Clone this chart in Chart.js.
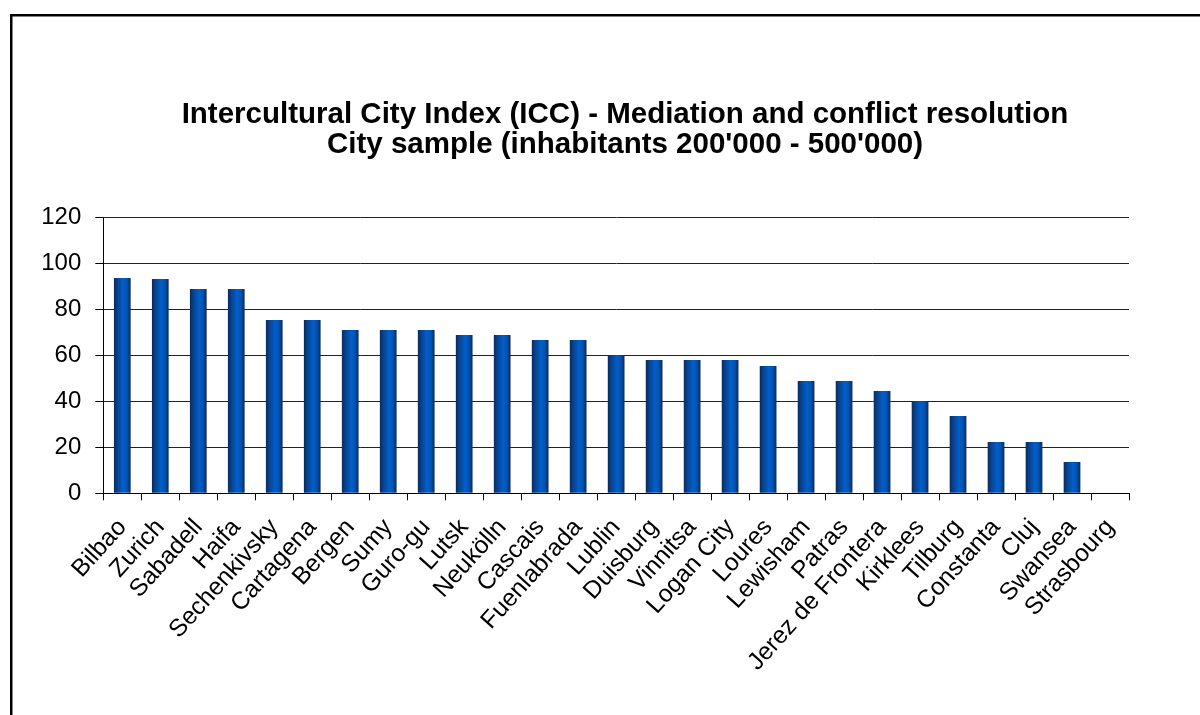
<!DOCTYPE html>
<html>
<head>
<meta charset="utf-8">
<style>
  html, body { margin: 0; padding: 0; background: #ffffff; }
  #wrap { width: 1200px; height: 715px; position: relative; }
</style>
<script src="https://cdn.jsdelivr.net/npm/chart.js@4.4.1/dist/chart.umd.min.js"></script>
</head>
<body>
<div id="wrap"><canvas id="chart" width="1200" height="715"></canvas></div>
<script>
// Cities in the 200'000 - 500'000 inhabitants sample
const cities = [
  'Bilbao', 'Zurich', 'Sabadell', 'Haifa', 'Sechenkivsky', 'Cartagena', 'Bergen',
  'Sumy', 'Guro-gu', 'Lutsk', 'Neukölln', 'Cascais', 'Fuenlabrada', 'Lublin',
  'Duisburg', 'Vinnitsa', 'Logan City', 'Loures', 'Lewisham', 'Patras',
  'Jerez de Frontera', 'Kirklees', 'Tilburg', 'Constanta', 'Cluj', 'Swansea', 'Strasbourg'
];

// ICC score for mediation and conflict resolution
const mediationScores = [
  93.6, 93.2, 88.8, 88.8, 75.4, 75.4, 71, 71, 71, 68.8, 68.8, 66.7, 66.7, 60,
  58, 58, 58, 55.4, 48.8, 48.8, 44.5, 40, 33.6, 22.3, 22.3, 13.6, 0
];

const yTicks = [0, 20, 40, 60, 80, 100, 120];

const titleLines = [
  'Intercultural City Index (ICC) - Mediation and conflict resolution',
  "City sample (inhabitants 200'000 - 500'000)"
];

const FONT = '"Liberation Sans", Arial, Helvetica, sans-serif';
const BAR_PCT = 0.44;

// Horizontal shading across each column: dark edges, bright centre
function columnFill(ctx) {
  const chart = ctx.chart;
  const area = chart.chartArea;
  const xs = chart.scales && chart.scales.x;
  if (!area || !xs || ctx.type !== 'data') return '#0058c0';
  const cx = xs.getPixelForValue(ctx.dataIndex);
  const half = (area.right - area.left) / cities.length * BAR_PCT / 2;
  const g = chart.ctx.createLinearGradient(cx - half, 0, cx + half, 0);
  g.addColorStop(0, '#0a2a5a');
  g.addColorStop(0.18, '#0a3f86');
  g.addColorStop(0.55, '#005fcc');
  g.addColorStop(0.78, '#0352b0');
  g.addColorStop(1, '#0a2a5a');
  return g;
}

// White page with the chart frame
const framePlugin = {
  id: 'frame',
  beforeDraw(chart) {
    const c = chart.ctx;
    c.save();
    c.fillStyle = '#ffffff';
    c.fillRect(0, 0, chart.width, chart.height);
    c.strokeStyle = '#000000';
    c.lineWidth = 2.5;
    c.beginPath();
    c.moveTo(11.25, chart.height + 5);
    c.lineTo(11.25, 15.25);
    c.lineTo(chart.width + 5, 15.25);
    c.stroke();
    c.restore();
  }
};

// Two-line bold heading centred over the plot
const headingPlugin = {
  id: 'heading',
  afterDraw(chart) {
    const c = chart.ctx;
    c.save();
    c.fillStyle = '#000000';
    c.font = 'bold 29.5px ' + FONT;
    c.textAlign = 'center';
    c.textBaseline = 'alphabetic';
    const cx = 625;
    c.fillText(titleLines[0], cx, 122.5);
    c.fillText(titleLines[1], cx, 152.5);
    c.restore();
  }
};

new Chart(document.getElementById('chart'), {
  type: 'bar',
  data: {
    labels: cities,
    datasets: [{
      data: mediationScores,
      backgroundColor: columnFill,
      borderWidth: 0,
      barPercentage: BAR_PCT,
      categoryPercentage: 1.0
    }]
  },
  options: {
    responsive: false,
    animation: false,
    layout: { padding: { left: 0, right: 71, top: 217.3, bottom: 0 } },
    plugins: {
      legend: { display: false },
      tooltip: { enabled: false },
      title: { display: false }
    },
    scales: {
      x: {
        grid: {
          display: true,
          offset: true,
          drawOnChartArea: false,
          drawTicks: true,
          tickLength: 7,
          color: '#000000',
          lineWidth: 1
        },
        border: { display: true, color: '#000000', width: 1 },
        ticks: {
          color: '#000000',
          font: { family: FONT, size: 24.5 },
          autoSkip: false,
          maxRotation: 48,
          minRotation: 48,
          padding: 13
        },
        afterFit(scale) { scale.height = 221.7; }
      },
      y: {
        min: 0,
        max: 120,
        afterBuildTicks(scale) { scale.ticks = yTicks.map(v => ({ value: v })); },
        grid: {
          color: '#222222',
          lineWidth: 1,
          borderDash: [2, 2],
          tickBorderDash: [],
          tickColor: '#000000',
          tickLength: 8
        },
        border: { display: true, color: '#000000', width: 1 },
        ticks: {
          color: '#000000',
          font: { family: FONT, size: 24 },
          padding: 14
        },
        afterFit(scale) { scale.width = 103.3; }
      }
    }
  },
  plugins: [framePlugin, headingPlugin]
});
</script>
</body>
</html>
